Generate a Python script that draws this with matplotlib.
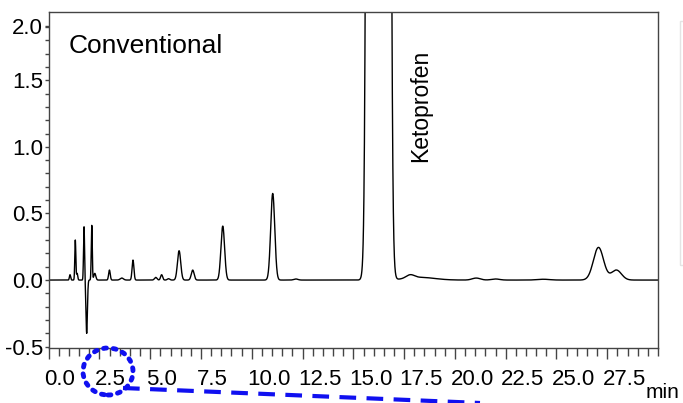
import numpy as np
import matplotlib
matplotlib.use('Agg')
import matplotlib.pyplot as plt
import matplotlib.transforms as mtransforms
from matplotlib.patches import Ellipse, Rectangle
from matplotlib.lines import Line2D

plt.rcParams['font.family'] = ['Liberation Sans', 'DejaVu Sans']

# peaks: retention time (min), height, width (sigma, min)
peak_rt = [1.05, 1.31, 1.40, 1.74, 1.87, 2.12, 2.27, 2.99, 3.60, 4.15,
           5.27, 5.56, 5.90, 6.42, 7.09, 8.57, 11.03, 12.17, 16.24, 17.80,
           18.30, 21.05, 22.00, 24.35, 27.07, 27.95]
peak_height = [0.04, 0.30, 0.05, 0.40, -0.40, 0.41, 0.05, 0.075, 0.015, 0.15,
               0.02, 0.04, 0.01, 0.22, 0.075, 0.405, 0.65, 0.008, 1035.0, 0.025,
               0.02, 0.015, 0.008, 0.006, 0.245, 0.075]
peak_sigma = [0.03, 0.025, 0.03, 0.025, 0.035, 0.025, 0.05, 0.04, 0.08, 0.045,
              0.06, 0.05, 0.06, 0.08, 0.07, 0.09, 0.10, 0.10, 0.187, 0.2,
              0.7, 0.2, 0.2, 0.3, 0.25, 0.25]

x_ticks = [0.0, 2.5, 5.0, 7.5, 10.0, 12.5, 15.0, 17.5, 20.0, 22.5, 25.0, 27.5]
y_ticks = [-0.5, 0.0, 0.5, 1.0, 1.5, 1.91]
y_labels = ['-0.5', '0.0', '0.5', '1.0', '1.5', '2.0']

t = np.arange(0, 30.001, 0.005)
signal = np.zeros_like(t)
for rt, h, s in zip(peak_rt, peak_height, peak_sigma):
    signal += h * np.exp(-0.5 * ((t - rt) / s) ** 2)

fig = plt.figure(figsize=(6.83, 4.03), dpi=100)
ax = fig.add_axes([0.0713, 0.1365, 0.8921, 0.833])
ax.plot(t, signal, color='black', lw=1.0)
ax.set_xlim(0, 30)
ax.set_ylim(-0.51, 2.01)

for sp in ax.spines.values():
    sp.set_color('#444444')
    sp.set_linewidth(1.0)

ax.set_xticks(x_ticks)
ax.set_xticklabels(['%.1f' % v for v in x_ticks], fontsize=16)
ax.set_xticks(np.arange(0, 30.01, 0.5), minor=True)
ax.set_yticks(y_ticks)
ax.set_yticklabels(y_labels, fontsize=16)
ax.set_yticks(np.arange(-0.5, 1.95, 0.1), minor=True)
ax.tick_params(axis='x', which='major', length=8, width=1, color='#444444', pad=7)
ax.tick_params(axis='x', which='minor', length=6, width=1, color='#444444')
ax.tick_params(axis='y', which='major', length=3, width=1, color='#444444', pad=1)
ax.tick_params(axis='y', which='minor', length=3, width=1, color='#444444')

# x labels sit just right of their ticks
shift = mtransforms.ScaledTranslation(-0.045, 0, fig.dpi_scale_trans)
for lab in ax.get_xticklabels():
    lab.set_horizontalalignment('left')
    lab.set_transform(lab.get_transform() + shift)

ax.text(0.032, 0.935, 'Conventional', transform=ax.transAxes, fontsize=19,
        ha='left', va='top')
ax.text(18.3, 0.885, 'Ketoprofen', rotation=90, fontsize=16.5,
        ha='center', va='bottom')
fig.text(646 / 683, 0.012, 'min', fontsize=15, ha='left', va='baseline')

# zoom marker around the 2.5 label
fig.add_artist(Ellipse((108 / 683, 1 - 371.5 / 403), 50 / 683, 47 / 403,
                       transform=fig.transFigure, fill=False, edgecolor='#1010f0',
                       lw=3.5, linestyle=(0, (0.6, 1.4)), capstyle='round'))
fig.add_artist(Line2D([123 / 683, 480 / 683], [1 - 388 / 403, 1 - 403 / 403],
                      transform=fig.transFigure, color='#1010f0', lw=3,
                      linestyle=(0, (4, 2.5))))
# edge of neighbouring panel
fig.add_artist(Rectangle((680 / 683, 1 - 265 / 403), 20 / 683, 244 / 403,
                         transform=fig.transFigure, fill=False,
                         edgecolor='#e4e4e4', lw=1))

fig.savefig('out.png', dpi=100)
